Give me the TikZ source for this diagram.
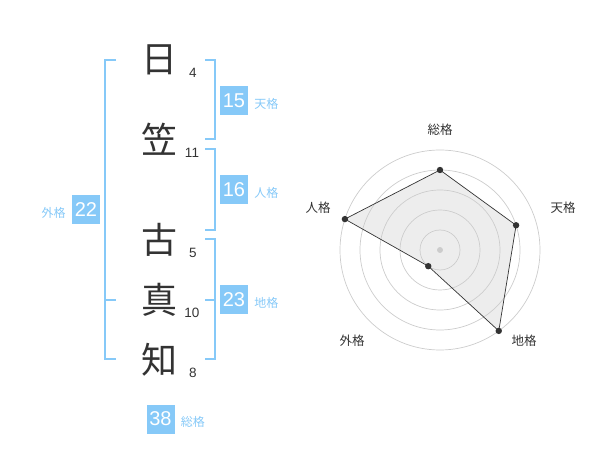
\documentclass[tikz,border=0pt]{standalone}
\usepackage{fontspec}
\newfontfamily\jpfont{Noto Sans CJK JP}
\newfontfamily\numfont{Liberation Sans}
\definecolor{kaku}{HTML}{86C9F8}
\definecolor{moji}{HTML}{333333}
\definecolor{wa}{HTML}{CCCCCC}

\begin{document}
\begin{tikzpicture}[x=1pt,y=-1pt,
    kanji/.style={font=\jpfont\fontsize{36}{36}\selectfont,text=moji,inner sep=0pt},
    kakusu/.style={font=\numfont\fontsize{13.5}{13.5}\selectfont,text=moji,inner sep=0pt},
    kakubox/.style={fill=kaku,text=white,font=\numfont\fontsize{20}{20}\selectfont,
      minimum width=28pt,minimum height=29pt,inner sep=0pt},
    kakuname/.style={font=\jpfont\fontsize{12}{12}\selectfont,text=kaku,inner sep=0pt},
    kakko/.style={draw=kaku,line width=2pt},
    jiku/.style={font=\jpfont\fontsize{12.5}{12.5}\selectfont,text=moji,inner sep=0pt}
  ]
  \useasboundingbox (0,0) rectangle (600,470);

  \node[kanji] (hi)   at (159,60)  {日};
  \node[kanji] (kasa) at (159,139) {笠};
  \node[kanji] (furu) at (159,240) {古};
  \node[kanji] (ma)   at (159,300) {真};
  \node[kanji] (chi)  at (159,360) {知};

  \node[kakusu] (n1) at (193,73)  {4};
  \node[kakusu] (n2) at (192,153) {11};
  \node[kakusu] (n3) at (193,253) {5};
  \node[kakusu] (n4) at (192,313) {10};
  \node[kakusu] (n5) at (193,373) {8};

  \draw[kakko] (205,60) -- (215,60) -- (215,139) -- (205,139);
  \draw[kakko] (205,149) -- (215,149) -- (215,230) -- (205,230);
  \draw[kakko] (205,239) -- (215,239) -- (215,359) -- (205,359);
  \draw[kakko] (205,300) -- (215,300);
  \draw[kakko] (116,60) -- (105,60) -- (105,359) -- (116,359);
  \draw[kakko] (105,300) -- (116,300);

  \node[kakubox] (ten)  at (234,100.5) {15};
  \node[kakubox] (jin)  at (234,190)   {16};
  \node[kakubox] (gai)  at (86,210)    {22};
  \node[kakubox] (chik) at (234,300)   {23};
  \node[kakubox] (sou)  at (160.5,419) {38};

  \node[kakuname,anchor=west] (tenl)  at ([xshift=6pt,yshift=-3pt]ten.east)  {天格};
  \node[kakuname,anchor=west] (jinl)  at ([xshift=6pt,yshift=-3pt]jin.east)  {人格};
  \node[kakuname,anchor=east] (gail)  at ([xshift=-6pt,yshift=-3pt]gai.west) {外格};
  \node[kakuname,anchor=west] (chikl) at ([xshift=6pt,yshift=-3pt]chik.east) {地格};
  \node[kakuname,anchor=west] (soul)  at ([xshift=6pt,yshift=-3pt]sou.east)  {総格};

  \begin{scope}[shift={(440,250)},y=1pt]
    \foreach \r in {20,40,60,80,100}
      \draw[wa,line width=0.7pt] (0,0) circle (\r);
    \fill[wa] (0,0) circle (3);
    \coordinate (psou) at (90:80);
    \coordinate (pten) at (18:80);
    \coordinate (pchi) at (-54:100);
    \coordinate (pgai) at (-126:20);
    \coordinate (pjin) at (162:100);
    \filldraw[fill=black!20,fill opacity=0.35,draw=moji,line width=0.7pt]
      (psou) -- (pten) -- (pchi) -- (pgai) -- (pjin) -- cycle;
    \foreach \p in {psou,pten,pchi,pgai,pjin}
      \fill[moji] (\p) circle (3.2);
  \end{scope}

  \node[jiku] (lsou) at (440,130) {総格};
  \node[jiku] (lten) at (563,208) {天格};
  \node[jiku] (ljin) at (318,208) {人格};
  \node[jiku] (lgai) at (352,341) {外格};
  \node[jiku] (lchi) at (524,341) {地格};
\end{tikzpicture}
\end{document}
